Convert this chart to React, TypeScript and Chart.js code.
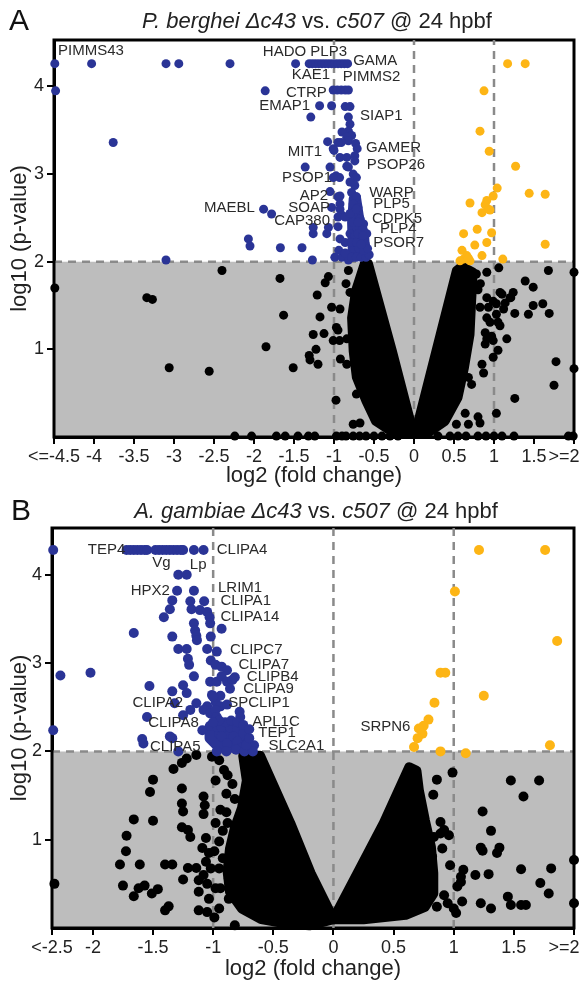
import React, { useEffect, useRef } from 'react';
import { Chart, registerables } from 'chart.js';

Chart.register(...registerables);

const FONT = "'Liberation Sans', Arial, Helvetica, sans-serif";
Chart.defaults.font.family = FONT;

type Pt = [number, number];
type Lbl = [string, number, number, CanvasTextAlign];
type Part = [string, boolean];

const BLUE = '#2a3496';
const ORANGE = '#fdb515';
const GREY = '#bdbdbd';
const DASH = '#8a8a8a';
const TEXT = '#222';

// ---------- shared ----------
const yMax = 4.53;
const yTickValues = [1, 2, 3, 4];
const yTickLabels = ['1', '2', '3', '4'];
const cutoffX = [-1, 0, 1];
const cutoffY = 2;
const xTitle = 'log2 (fold change)';
const yTitle = 'log10 (p-value)';

// ---------- Panel A ----------
const aTitle: Part[] = [['P. berghei Δc43', true], [' vs. ', false], ['c507', true], [' @ 24 hpbf', false]];
const aXMin = -4.5;
const aXTicks = [-4.5, -4, -3.5, -3, -2.5, -2, -1.5, -1, -0.5, 0, 0.5, 1, 1.5, 2];
const aXTickLabels = ['<=-4.5', '-4', '-3.5', '-3', '-2.5', '-2', '-1.5', '-1', '-0.5', '0', '0.5', '1', '1.5', '>=2    '];

const aBlueTopRow = [-4.49, -4.03, -3.10, -2.94, -2.30, -1.48, -1.31, -1.27, -1.23, -1.19, -1.15, -1.11, -1.07, -1.03, -0.99, -0.95, -0.91, -0.87, -0.83];
const aBlue: Pt[] = [
  [-4.48, 3.95], [-3.76, 3.36], [-1.86, 3.95],
  [-1.01, 3.96], [-0.96, 3.96], [-0.91, 3.96], [-0.86, 3.96], [-0.82, 3.96],
  [-1.18, 3.78], [-1.03, 3.78], [-0.86, 3.77], [-0.80, 3.77],
  [-1.29, 3.65], [-0.82, 3.65],
  [-0.80, 3.57], [-0.82, 3.49], [-0.90, 3.48], [-0.78, 3.44], [-0.84, 3.42], [-0.82, 3.38], [-1.08, 3.37], [-0.91, 3.36], [-0.95, 3.36], [-0.73, 3.35], [-0.71, 3.29], [-1.01, 3.29],
  [-1.0, 3.27], [-0.925, 3.19], [-0.84, 3.19], [-0.74, 3.21], [-0.74, 3.15], [-0.82, 3.08], [-0.84, 3.09], [-0.76, 3.0], [-0.72, 2.96], [-1.36, 3.08], [-1.05, 3.08], [-0.975, 2.98], [-0.93, 2.96], [-1.01, 2.96],
  [-0.80, 2.91], [-0.74, 2.87], [-0.78, 2.79], [-0.72, 2.74], [-0.76, 2.66], [-0.70, 2.62], [-0.74, 2.54], [-0.675, 2.49], [-0.63, 2.43], [-0.72, 2.39], [-0.65, 2.36], [-0.59, 2.32], [-0.675, 2.26], [-0.61, 2.20],
  [-1.05, 2.80], [-0.95, 2.74], [-0.925, 2.75], [-0.925, 2.66], [-1.03, 2.62], [-0.925, 2.60], [-0.90, 2.53], [-0.95, 2.51], [-0.86, 2.51],
  [-1.07, 2.39], [-0.95, 2.40], [-1.26, 2.39], [-1.26, 2.32], [-1.09, 2.32], [-0.925, 2.26], [-0.86, 2.22], [-0.80, 2.32], [-0.74, 2.30],
  [-1.88, 2.60], [-1.78, 2.545],
  [-2.07, 2.26], [-2.05, 2.18], [-1.67, 2.16], [-1.40, 2.16], [-1.27, 2.02], [-0.99, 2.05], [-0.90, 2.05], [-0.82, 2.02], [-0.94, 2.13], [-0.86, 2.10], [-3.10, 2.02],
  [-0.78, 2.05], [-0.72, 2.05], [-0.66, 2.05], [-0.60, 2.05], [-0.56, 2.08], [-0.75, 2.15], [-0.69, 2.15], [-0.63, 2.13], [-0.58, 2.15],
  [-0.78, 2.22], [-0.72, 2.22], [-0.66, 2.20], [-0.70, 2.32], [-0.64, 2.30], [-0.76, 2.45], [-0.70, 2.45], [-0.80, 2.55], [-0.72, 2.60],
];
const aBlueCore: Pt[] = [[-0.77, 2.05], [-0.78, 2.45], [-0.76, 2.72], [-0.72, 2.74], [-0.68, 2.5], [-0.62, 2.32], [-0.6, 2.08], [-0.77, 2.05]];
const aOrange: Pt[] = [
  [1.17, 4.26], [1.39, 4.26], [0.875, 3.95], [0.825, 3.49], [0.94, 3.26], [1.27, 3.09], [1.04, 2.84], [0.99, 2.75], [1.44, 2.78], [1.64, 2.77],
  [0.70, 2.67], [0.91, 2.70], [0.89, 2.65], [0.93, 2.60], [0.85, 2.56], [0.95, 2.59], [0.62, 2.32], [0.79, 2.37], [0.97, 2.33], [1.64, 2.20],
  [0.76, 2.19], [0.91, 2.22], [0.60, 2.13], [0.66, 2.07], [0.62, 2.03], [0.70, 2.01], [0.85, 2.07], [1.11, 2.03], [0.575, 2.01], [0.68, 2.04],
];
const aBlack: Pt[] = [
  [-4.49, 1.70], [-3.34, 1.59], [-3.27, 1.57], [-2.40, 1.90], [-1.675, 1.81], [-1.63, 1.39], [-1.85, 1.03], [-3.06, 0.79], [-2.56, 0.75], [-1.51, 0.79],
  [-1.21, 1.62], [-1.175, 1.37], [-1.26, 1.17], [-1.125, 1.18], [-1.225, 1.0], [-1.31, 0.93], [-1.30, 0.88], [-1.2, 0.83],
  [-1.07, 1.83], [-1.11, 1.76], [-1.03, 1.48], [-0.925, 1.46], [-0.97, 1.25], [-0.95, 1.22], [-1.01, 1.10], [-0.93, 1.10], [-0.84, 1.12], [-0.92, 0.89], [-0.84, 0.83],
  [-0.975, 0.42], [-0.76, 0.145], [-0.675, 0.16], [-0.72, 0.49], [-0.82, 1.90], [-0.85, 1.75], [-0.80, 1.65],
  [-2.24, 0.01], [-2.03, 0.01], [-1.72, 0.01], [-1.61, 0.01], [-1.45, 0.01], [-1.32, 0.01], [-1.24, 0.01], [-0.97, 0.01], [-0.90, 0.01], [-0.85, 0.01], [-0.76, 0.01], [-0.68, 0.01], [-0.60, 0.01], [-0.50, 0.01], [-0.40, 0.01], [-0.30, 0.01], [-0.20, 0.01],
  [1.06, 1.93], [1.68, 1.90], [2.0, 1.88], [0.91, 1.88], [0.78, 1.86], [1.39, 1.78], [1.49, 1.71], [1.10, 1.63], [1.21, 1.59], [0.91, 1.59], [1.03, 1.52], [0.93, 1.48],
  [1.14, 1.53], [1.26, 1.41], [1.43, 1.40], [1.49, 1.50], [1.61, 1.52], [1.69, 1.41], [0.91, 1.36], [0.95, 1.31], [0.89, 1.19], [0.97, 1.15], [0.91, 1.12], [1.16, 1.12],
  [1.05, 0.99], [0.99, 0.91], [0.85, 0.83], [0.87, 0.73], [1.775, 0.86], [2.0, 0.78], [1.75, 0.59], [1.26, 0.44], [0.72, 0.60], [0.68, 0.68], [1.03, 0.27], [0.64, 0.27],
  [0.80, 0.23], [0.825, 0.16], [0.68, 0.145], [0.53, 0.145], [0.83, 1.75], [0.80, 1.68], [0.99, 1.55], [0.825, 1.48], [1.03, 1.40], [1.12, 1.46], [1.2, 1.59], [1.24, 1.65],
  [1.075, 1.65], [1.05, 1.31], [1.075, 1.27], [0.89, 1.06], [0.99, 1.10],
  [0.30, 0.01], [0.45, 0.01], [0.55, 0.01], [0.65, 0.01], [0.80, 0.01], [0.90, 0.01], [1.0, 0.01], [1.1, 0.01], [1.25, 0.01], [1.93, 0.01], [1.99, 0.01],
];
const aMassLeft: Pt[] = [[0, 0.03], [-0.27, 0.98], [-0.57, 1.98], [-0.62, 1.98], [-0.73, 1.67], [-0.78, 1.36], [-0.76, 0.98], [-0.72, 0.68], [-0.6, 0.41], [-0.48, 0.18], [-0.28, 0.06], [0, 0.03]];
const aMassRight: Pt[] = [[0.01, 0.03], [0.53, 1.9], [0.6, 1.95], [0.74, 1.88], [0.72, 1.55], [0.70, 1.17], [0.63, 0.79], [0.55, 0.45], [0.39, 0.18], [0.2, 0.06], [0.01, 0.03]];
const aLabels: Lbl[] = [
  ['PIMMS43', -4.45, 4.41, 'left'], ['HADO PLP3', -1.89, 4.39, 'left'], ['GAMA', -0.76, 4.29, 'left'],
  ['KAE1', -1.05, 4.13, 'right'], ['PIMMS2', -0.89, 4.11, 'left'], ['CTRP', -1.09, 3.93, 'right'],
  ['EMAP1', -1.30, 3.78, 'right'], ['SIAP1', -0.675, 3.66, 'left'], ['MIT1', -1.15, 3.25, 'right'],
  ['GAMER', -0.6, 3.30, 'left'], ['PSOP26', -0.59, 3.11, 'left'], ['PSOP1', -1.025, 2.96, 'right'],
  ['AP2', -1.075, 2.75, 'right'], ['SOAP', -1.05, 2.61, 'right'], ['CAP380', -1.05, 2.47, 'right'],
  ['MAEBL', -1.99, 2.61, 'right'], ['WARP', -0.56, 2.79, 'left'], ['PLP5', -0.51, 2.66, 'left'],
  ['CDPK5', -0.525, 2.49, 'left'], ['PLP4', -0.425, 2.37, 'left'], ['PSOR7', -0.51, 2.21, 'left'],
];

// ---------- Panel B ----------
const bTitle: Part[] = [['A. gambiae Δc43', true], [' vs. ', false], ['c507', true], [' @ 24 hpbf', false]];
const bXMin = -2.34;
const bXTicks = [-2.34, -2, -1.5, -1, -0.5, 0, 0.5, 1, 1.5, 2];
const bXTickLabels = ['<-2.5', '-2', '-1.5', '-1', '-0.5', '0', '0.5', '1', '1.5', '>=2    '];

const bBlueTopRow = [-2.33, -1.72, -1.69, -1.66, -1.63, -1.60, -1.57, -1.55, -1.48, -1.45, -1.42, -1.39, -1.36, -1.33, -1.30, -1.27, -1.25, -1.16, -1.08];
const bBlue: Pt[] = [
  [-1.29, 4.0], [-1.22, 4.0], [-1.30, 3.82], [-1.16, 3.82], [-1.34, 3.71], [-1.19, 3.70], [-1.075, 3.70], [-1.36, 3.61], [-1.18, 3.61], [-1.11, 3.60],
  [-1.05, 3.58], [-1.41, 3.52], [-1.03, 3.52], [-1.025, 3.45], [-1.16, 3.45], [-0.93, 3.39], [-1.66, 3.34], [-1.15, 3.37], [-1.14, 3.31], [-1.135, 3.26],
  [-1.34, 3.30], [-1.02, 3.30], [-1.29, 3.16], [-1.22, 3.16], [-1.05, 3.16], [-0.97, 3.13], [-1.21, 3.05], [-1.20, 2.98], [-1.02, 3.03], [-0.98, 2.98],
  [-0.93, 2.96], [-0.885, 2.92], [-2.27, 2.86], [-2.02, 2.89], [-1.16, 2.85], [-1.25, 2.75], [-1.22, 2.66], [-1.025, 2.79], [-0.97, 2.79], [-0.93, 2.85],
  [-0.885, 2.79], [-0.84, 2.81], [-0.82, 2.84], [-0.86, 2.71], [-1.53, 2.74], [-1.34, 2.68], [-1.01, 2.64], [-0.94, 2.63], [-1.32, 2.545], [-1.14, 2.545],
  [-1.05, 2.51], [-0.98, 2.56], [-0.94, 2.51], [-0.885, 2.53], [-1.19, 2.47], [-1.25, 2.41], [-1.08, 2.47], [-1.025, 2.43], [-0.98, 2.47], [-0.97, 2.39],
  [-0.78, 2.45], [-0.775, 2.39], [-1.55, 2.39], [-1.09, 2.24], [-1.025, 2.29], [-0.97, 2.28], [-0.93, 2.27], [-0.86, 2.27], [-0.80, 2.26], [-0.75, 2.21],
  [-2.33, 2.24], [-1.59, 2.14], [-1.58, 2.09], [-1.34, 2.15], [-1.36, 2.17], [-0.93, 2.17], [-0.885, 2.09], [-0.83, 2.17], [-0.80, 2.11], [-0.76, 2.05],
  [-0.72, 2.09], [-0.66, 2.07], [-1.29, 2.0], [-0.97, 2.0], [-0.89, 2.0], [-0.81, 2.02], [-0.74, 2.0], [-0.67, 2.0], [-0.725, 2.07],
  [-0.90, 2.33], [-0.85, 2.35], [-0.80, 2.33], [-0.95, 2.35], [-1.0, 2.33], [-0.75, 2.30], [-0.70, 2.15], [-0.70, 2.25], [-1.0, 2.62],
];
const bBlueCore: Pt[] = [[-1.03, 2.28], [-0.82, 2.28], [-0.72, 2.14], [-0.69, 2.04], [-0.95, 2.04], [-1.03, 2.15], [-1.03, 2.28]];
const bOrange: Pt[] = [
  [1.21, 4.28], [1.76, 4.28], [1.01, 3.81], [1.86, 3.25], [0.89, 2.89], [0.93, 2.89], [1.25, 2.63], [0.84, 2.55], [0.79, 2.36],
  [0.75, 2.29], [0.71, 2.26], [0.74, 2.20], [0.70, 2.15], [0.67, 2.05], [0.89, 2.0], [1.10, 1.98], [1.80, 2.07],
];
const bBlack: Pt[] = [
  [-2.32, 0.50], [-1.50, 1.68], [-1.525, 1.54], [-1.66, 1.23], [-1.50, 1.215], [-1.72, 1.045], [-1.725, 0.87], [-1.775, 0.72], [-1.61, 0.72], [-1.40, 0.72],
  [-1.34, 0.72], [-1.75, 0.48], [-1.66, 0.36], [-1.62, 0.45], [-1.57, 0.48], [-1.51, 0.39], [-1.46, 0.44], [-1.40, 0.20], [-1.37, 0.245],
  [-1.33, 1.80], [-1.26, 1.87], [-1.22, 1.92], [-1.14, 1.96], [-1.26, 1.58], [-1.26, 1.41], [-1.25, 1.32], [-1.26, 1.14], [-1.21, 1.11], [-1.19, 1.03],
  [-1.21, 0.68], [-1.25, 0.55], [-1.14, 0.68], [-1.12, 0.54], [-1.08, 1.49], [-1.07, 1.39], [-1.08, 1.29],
  [-1.06, 1.02], [-1.09, 0.905], [-1.035, 0.85], [-1.06, 0.75], [-1.02, 0.675], [-1.08, 0.60], [-1.05, 0.50], [-1.12, 0.41], [-1.035, 0.33], [-0.98, 0.45],
  [-1.12, 0.20], [-1.05, 0.18], [-0.95, 0.22], [-0.99, 0.12], [-0.82, 0.03],
  [-1.01, 1.94], [-0.95, 1.90], [-0.91, 1.79], [-0.88, 1.73], [-0.84, 1.63], [-0.98, 1.67], [-0.89, 1.52], [-0.82, 1.46], [-0.94, 1.34], [-0.89, 1.31],
  [-0.98, 1.19], [-0.88, 1.19], [-0.92, 1.10], [-0.95, 0.98], [-0.99, 0.87], [-0.92, 0.79], [-0.95, 0.675], [-0.87, 0.56], [-0.94, 0.45], [-0.87, 0.33], [-0.80, 0.33],
  [0.99, 1.76], [0.86, 1.68], [0.83, 1.51], [1.475, 1.67], [1.71, 1.67], [1.58, 1.49], [1.24, 1.32], [1.31, 1.10], [1.225, 0.91], [1.24, 0.875],
  [1.38, 0.91], [1.36, 0.85], [2.0, 0.77], [1.56, 0.665], [1.81, 0.675], [1.08, 0.66], [1.18, 0.60], [1.29, 0.61], [1.06, 0.58], [0.97, 0.71],
  [1.06, 0.52], [1.03, 0.47], [1.72, 0.51], [1.79, 0.39], [1.07, 0.30], [1.225, 0.28], [1.31, 0.22], [1.45, 0.355], [1.475, 0.26], [1.56, 0.26],
  [1.60, 0.26], [2.0, 0.28], [0.92, 0.37], [0.86, 0.24], [1.0, 0.22], [1.02, 0.17], [0.95, 0.28], [0.82, 0.81], [0.835, 1.03], [0.92, 1.11],
  [0.89, 1.07], [0.96, 1.05], [0.89, 1.20], [0.905, 0.90], [0.70, 0.60], [0.725, 0.54],
];
const bMassLeft: Pt[] = [[0, 0.1], [-0.19, 0.62], [-0.36, 1.19], [-0.61, 1.95], [-0.75, 1.95], [-0.72, 1.67], [-0.76, 1.36], [-0.82, 1.13], [-0.86, 0.9], [-0.88, 0.64], [-0.86, 0.41], [-0.76, 0.22], [-0.6, 0.1], [-0.39, 0.05], [-0.2, 0.03], [0, 0.1]];
const bMassRight: Pt[] = [[0, 0.1], [0.2, 0.62], [0.42, 1.19], [0.63, 1.82], [0.69, 1.78], [0.71, 1.56], [0.76, 1.22], [0.81, 0.92], [0.83, 0.62], [0.83, 0.39], [0.76, 0.24], [0.6, 0.15], [0.25, 0.1], [0, 0.1]];
const bLabels: Lbl[] = [
  ['TEP4', -1.73, 4.28, 'right'], ['Vg', -1.43, 4.14, 'center'], ['Lp', -1.125, 4.11, 'center'], ['CLIPA4', -0.97, 4.28, 'left'],
  ['HPX2', -1.36, 3.82, 'right'], ['LRIM1', -0.96, 3.85, 'left'], ['CLIPA1', -0.94, 3.70, 'left'], ['CLIPA14', -0.94, 3.52, 'left'],
  ['CLIPC7', -0.86, 3.15, 'left'], ['CLIPA7', -0.79, 2.98, 'left'], ['CLIPB4', -0.72, 2.84, 'left'], ['CLIPA9', -0.75, 2.71, 'left'],
  ['SPCLIP1', -0.875, 2.55, 'left'], ['APL1C', -0.675, 2.33, 'left'], ['TEP1', -0.625, 2.21, 'left'], ['SLC2A1', -0.54, 2.06, 'left'],
  ['CLIPA2', -1.25, 2.55, 'right'], ['CLIPA8', -1.54, 2.32, 'left'], ['CLIPA5', -1.525, 2.05, 'left'], ['SRPN6', 0.64, 2.28, 'right'],
];

// ---------- layout (pixels, not data) ----------
const W = 582;
const H = 491;

interface Spec {
  letter: string; title: Part[]; xMin: number; xTicks: number[]; xLabels: string[];
  blueTop: number[]; blueTopY: number; blue: Pt[]; blueCore: Pt[]; orange: Pt[]; black: Pt[];
  massL: Pt[]; massR: Pt[]; labels: Lbl[];
  geo: { left: number; right: number; top: number; bottom: number; titleY: number; letterX: number; letterY: number; r: number; xTitlePad: number };
}

const specA: Spec = {
  letter: 'A', title: aTitle, xMin: aXMin, xTicks: aXTicks, xLabels: aXTickLabels,
  blueTop: aBlueTopRow, blueTopY: 4.26, blue: aBlue, blueCore: aBlueCore, orange: aOrange, black: aBlack,
  massL: aMassLeft, massR: aMassRight, labels: aLabels,
  geo: { left: 54, right: 574, top: 40, bottom: 437, titleY: 22, letterX: 9, letterY: 22, r: 4.5, xTitlePad: 2 },
};
const specB: Spec = {
  letter: 'B', title: bTitle, xMin: bXMin, xTicks: bXTicks, xLabels: bXTickLabels,
  blueTop: bBlueTopRow, blueTopY: 4.28, blue: bBlue, blueCore: bBlueCore, orange: bOrange, black: bBlack,
  massL: bMassLeft, massR: bMassRight, labels: bLabels,
  geo: { left: 52, right: 574, top: 37, bottom: 437, titleY: 21, letterX: 11, letterY: 21, r: 5, xTitlePad: 0 },
};

const toXY = (a: Pt[]) => a.map(([x, y]) => ({ x, y }));

function buildConfig(s: Spec): any {
  const g = s.geo;
  const headerPlugin = {
    id: 'header',
    afterDraw(chart: any) {
      const ctx = chart.ctx as CanvasRenderingContext2D;
      ctx.save();
      ctx.fillStyle = '#111';
      ctx.textBaseline = 'middle';
      ctx.textAlign = 'left';
      ctx.font = `30px ${FONT}`;
      ctx.fillText(s.letter, g.letterX, g.letterY);
      const fontOf = (it: boolean) => `${it ? 'italic ' : ''}22px ${FONT}`;
      const widths = s.title.map(([t, it]) => { ctx.font = fontOf(it); return ctx.measureText(t).width; });
      const total = widths.reduce((a, b) => a + b, 0);
      let x = (chart.chartArea.left + chart.chartArea.right) / 2 + 3 - total / 2;
      s.title.forEach(([t, it], i) => { ctx.font = fontOf(it); ctx.fillStyle = TEXT; ctx.fillText(t, x, g.titleY); x += widths[i]; });
      ctx.restore();
    },
  };
  const framePlugin = {
    id: 'frame',
    afterDatasetDraw(chart: any, args: any) {
      if (args.index !== 0) return;
      const { left, right, top, bottom } = chart.chartArea;
      const ctx = chart.ctx as CanvasRenderingContext2D;
      ctx.save();
      ctx.strokeStyle = '#000';
      ctx.lineWidth = 3;
      ctx.strokeRect(left, top, right - left, bottom - top);
      ctx.restore();
    },
  };
  const labelPlugin = {
    id: 'geneLabels',
    afterDatasetsDraw(chart: any) {
      const ctx = chart.ctx as CanvasRenderingContext2D;
      const xs = chart.scales.x, ys = chart.scales.y;
      ctx.save();
      ctx.font = `15px ${FONT}`;
      ctx.fillStyle = '#2a2a2a';
      ctx.textBaseline = 'middle';
      for (const [t, vx, vy, al] of s.labels) {
        ctx.textAlign = al;
        ctx.fillText(t, xs.getPixelForValue(vx), ys.getPixelForValue(vy));
      }
      ctx.restore();
    },
  };

  const dashStyle = { borderColor: DASH, borderWidth: 2.5, borderDash: [8, 6], pointRadius: 0, pointHoverRadius: 0 };
  const mass = (pts: Pt[], color: string, order: number) => ({
    type: 'line', data: toXY(pts), borderColor: color, backgroundColor: color, borderWidth: 2 * g.r,
    borderJoinStyle: 'round', borderCapStyle: 'round', fill: 'shape', pointRadius: 0, pointHoverRadius: 0, order, clip: 10,
  });
  const dots = (pts: Pt[], color: string, order: number) => ({
    type: 'scatter', data: toXY(pts), backgroundColor: color, borderColor: color, pointBackgroundColor: color,
    pointBorderWidth: 0, borderWidth: 0, pointRadius: g.r, pointHoverRadius: g.r, order, clip: 10,
  });
  const blueAll: Pt[] = [...s.blueTop.map((x) => [x, s.blueTopY] as Pt), ...s.blue];

  const datasets: any[] = [
    { type: 'line', data: toXY([[s.xMin, cutoffY], [2, cutoffY]]), ...dashStyle, backgroundColor: GREY, fill: 'start', order: 100 },
    ...cutoffX.map((xv) => ({ type: 'line', data: toXY([[xv, 0], [xv, yMax]]), ...dashStyle, fill: false, order: 90 })),
    mass(s.massL, '#000', 50),
    mass(s.massR, '#000', 50),
    dots(s.black, '#000', 40),
    mass(s.blueCore, BLUE, 35),
    dots(blueAll, BLUE, 30),
    dots(s.orange, ORANGE, 20),
  ];

  return {
    type: 'scatter',
    data: { datasets },
    plugins: [framePlugin, labelPlugin, headerPlugin],
    options: {
      animation: false,
      responsive: false,
      events: [],
      layout: { padding: { top: g.top, right: W - g.right, left: 0, bottom: 0 } },
      plugins: { legend: { display: false }, tooltip: { enabled: false }, title: { display: false } },
      scales: {
        x: {
          type: 'linear', min: s.xMin, max: 2,
          afterBuildTicks: (sc: any) => { sc.ticks = s.xTicks.map((v) => ({ value: v })); },
          afterFit: (sc: any) => { sc.height = H - g.bottom; sc.paddingLeft = 0; sc.paddingRight = 0; },
          ticks: {
            autoSkip: false, maxRotation: 0, minRotation: 0, padding: 2, color: TEXT,
            font: { family: FONT, size: 18 },
            callback: (_v: any, i: number) => s.xLabels[i],
          },
          grid: { display: true, drawOnChartArea: false, drawTicks: true, tickLength: 7, color: '#000', lineWidth: 2 },
          border: { display: true, color: '#000', width: 3 },
          title: { display: true, text: xTitle, color: TEXT, font: { family: FONT, size: 22 }, padding: { top: 0, bottom: g.xTitlePad } },
        },
        y: {
          type: 'linear', min: 0, max: yMax,
          afterBuildTicks: (sc: any) => { sc.ticks = yTickValues.map((v) => ({ value: v })); },
          afterFit: (sc: any) => { sc.width = g.left; sc.paddingTop = 0; sc.paddingBottom = 0; },
          ticks: {
            padding: 3, color: TEXT, font: { family: FONT, size: 18 },
            callback: (v: any) => yTickLabels[yTickValues.indexOf(v)],
          },
          grid: { display: true, drawOnChartArea: false, drawTicks: true, tickLength: 7, color: '#000', lineWidth: 2 },
          border: { display: true, color: '#000', width: 3 },
          title: { display: true, text: yTitle, color: TEXT, font: { family: FONT, size: 22 }, padding: { top: 7, bottom: 0 } },
        },
      },
    },
  };
}

function Panel({ spec, top }: { spec: Spec; top: number }) {
  const ref = useRef<HTMLCanvasElement>(null);
  useEffect(() => {
    const chart = new Chart(ref.current as HTMLCanvasElement, buildConfig(spec));
    return () => chart.destroy();
  }, [spec]);
  return (
    <canvas
      ref={ref}
      width={W}
      height={H}
      style={{ position: 'absolute', left: 0, top, width: W, height: H, display: 'block' }}
    />
  );
}

export default function App() {
  return (
    <div style={{ position: 'absolute', left: 0, top: 0, width: W, height: 982, background: '#fff', overflow: 'hidden' }}>
      <Panel spec={specA} top={0} />
      <Panel spec={specB} top={H} />
    </div>
  );
}
